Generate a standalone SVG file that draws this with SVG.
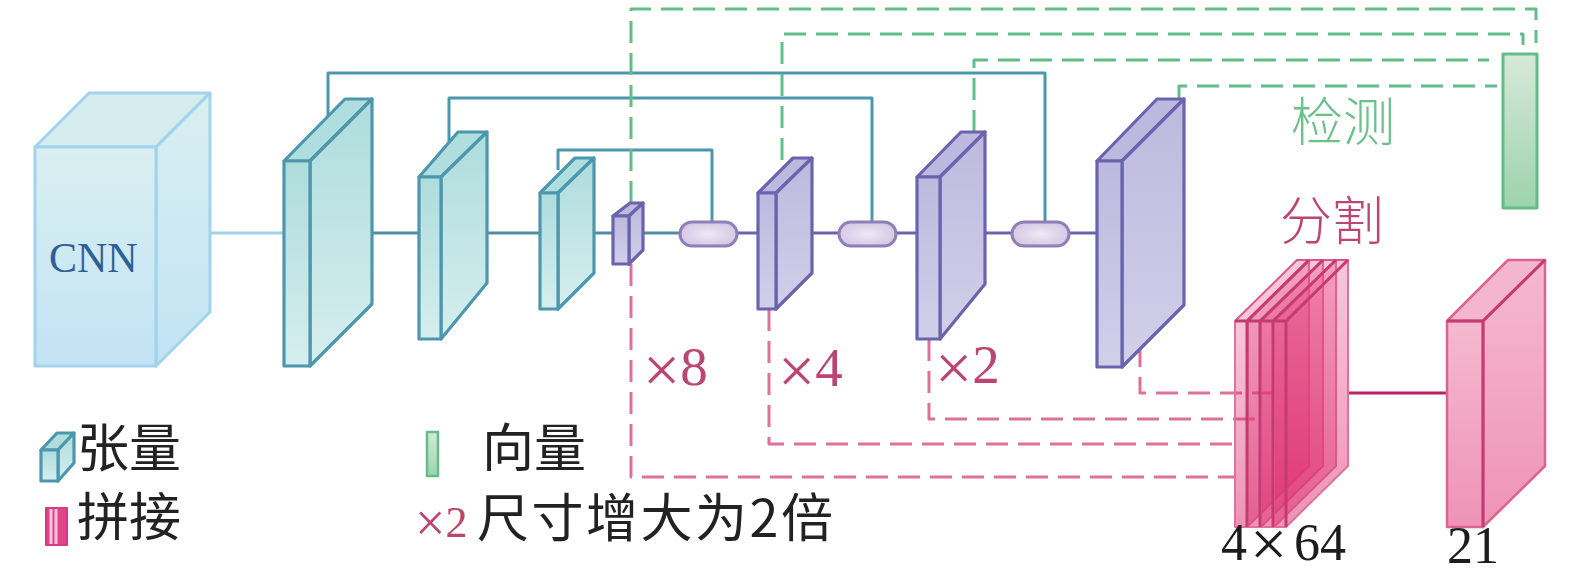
<svg xmlns="http://www.w3.org/2000/svg" width="1575" height="581" viewBox="0 0 1575 581">
<style>
.cj{font-family:"Noto Sans CJK SC","Noto Sans CJK JP",sans-serif;font-size:52px}
.lt3{font-weight:300}
.ms{font-family:"Liberation Serif","Times New Roman",serif}
.num{font-size:52px;fill:#1c1c1c}
.pk{fill:#bb4671;font-size:55px}
.x{font-size:66px}
.k{fill:#222}
path,rect,polygon{stroke-linejoin:round}
.s{fill:none;stroke-width:3}
.gd{fill:none;stroke:#63bd88;stroke-width:3;stroke-dasharray:22 10}
.pd{fill:none;stroke:#de7198;stroke-width:3;stroke-dasharray:22 10}
.tl{stroke:#4d97ae;stroke-width:3.2;fill:url(#gT)}
.tt{stroke:#4d97ae;stroke-width:3.2;fill:#b0dddd}
.pu{stroke:#6b63ae;stroke-width:3.2;fill:url(#gP)}
.pt{stroke:#6b63ae;stroke-width:3.2;fill:#bdb9de}
.cb{stroke:#a2d3ec;stroke-width:3;fill:url(#gC)}
.ct{stroke:#a2d3ec;stroke-width:3;fill:#d6edf0}
.rd{stroke:#d9648f;stroke-width:2.5;fill:url(#gR)}
.rt{stroke:#d9648f;stroke-width:2.5;fill:#f4b6cd}
.ly{stroke:#e0719c;stroke-width:2;fill:url(#gL)}
.lt{stroke:#d85a8c;stroke-width:2;fill:#e4447f;fill-opacity:.3}
.dk{fill:none;stroke:#c63a72;stroke-width:3}
.pill{fill:url(#gO);stroke:#8f7fb5;stroke-width:3}
</style>
<defs>
<linearGradient id="gT" x1="0" y1="0" x2="0" y2="1"><stop offset="0" stop-color="#aedcdc"/><stop offset="1" stop-color="#d6eeee"/></linearGradient>
<linearGradient id="gP" x1="0" y1="0" x2="0" y2="1"><stop offset="0" stop-color="#bdb9de"/><stop offset="1" stop-color="#d2cfe9"/></linearGradient>
<linearGradient id="gC" x1="0" y1="0" x2="0" y2="1"><stop offset="0" stop-color="#d9eff1"/><stop offset="1" stop-color="#c2e3f4"/></linearGradient>
<linearGradient id="gR" x1="0" y1="0" x2="0" y2="1"><stop offset="0" stop-color="#f5b9cf"/><stop offset="1" stop-color="#ef93b6"/></linearGradient>
<linearGradient id="gL" x1="0" y1="0" x2="0" y2="1"><stop offset="0" stop-color="#e4447f" stop-opacity=".3"/><stop offset="1" stop-color="#dc2f70" stop-opacity=".52"/></linearGradient>
<linearGradient id="gG" x1="0" y1="0" x2="0" y2="1"><stop offset="0" stop-color="#d6e9d8"/><stop offset="1" stop-color="#9dd3ae"/></linearGradient>
<radialGradient id="gO"><stop offset="0" stop-color="#f3e7f5"/><stop offset="1" stop-color="#d5c9e6"/></radialGradient>
</defs>

<g id="connectors">
<path class="s" stroke="#a2d3ec" d="M210 233H284"/>
<path class="s" stroke="#4d8ea6" d="M372 233H419M487 233H540M594 233H613M643 233H680"/>
<path class="s" stroke="#6b63ae" d="M737 233H758M812 233H839M896 233H917M985 233H1012M1069 233H1097"/>
<path class="s" stroke="#4d97ae" d="M558 170V150H712V222M449 150V98H872V222M328 120V73H1045V222"/>
<path class="gd" d="M631 203V9H1536V43"/>
<path class="gd" d="M782 160V34H1523V45"/>
<path class="gd" d="M974 132V60H1489"/>
<path class="gd" d="M1179 100V86H1497"/>
<path class="pd" d="M631 264V477H1235"/>
<path class="pd" d="M769 309V444H1241"/>
<path class="pd" d="M929 339V419H1260"/>
<path class="pd" d="M1140 345V393H1273"/>
<path class="s" stroke="#b5265f" d="M1348 393H1447"/>
</g>

<g id="cnn">
<polygon class="ct" points="35,147 89,93 210,93 156,147"/>
<polygon class="cb" points="156,147 210,93 210,312 156,366"/>
<rect class="cb" x="35" y="147" width="121" height="219"/>
<text class="ms" x="49" y="272" font-size="42" fill="#2f5f96">CNN</text>
</g>

<g id="t1">
<polygon class="tt" points="284,161 345,99 372,99 310,161"/>
<polygon class="tl" points="310,161 372,99 372,304 310,366"/>
<rect class="tl" x="284" y="161" width="26" height="205"/>
</g>
<g id="t2">
<polygon class="tt" points="419,177 458,132 487,132 441,177"/>
<polygon class="tl" points="441,177 487,132 487,283 441,339"/>
<rect class="tl" x="419" y="177" width="22" height="162"/>
</g>
<g id="t3">
<polygon class="tt" points="540,193 575,158 594,158 558,193"/>
<polygon class="tl" points="558,193 594,158 594,273 558,309"/>
<rect class="tl" x="540" y="193" width="18" height="116"/>
</g>
<g id="p0">
<polygon class="pt" points="613,216 630,203 643,203 629,216"/>
<polygon class="pu" points="629,216 643,203 643,250 629,264"/>
<rect class="pu" x="613" y="216" width="16" height="48"/>
</g>
<g id="u1"><rect class="pill" x="680" y="222" width="57" height="24" rx="12"/></g>
<g id="p1">
<polygon class="pt" points="758,193 793,158 812,158 776,193"/>
<polygon class="pu" points="776,193 812,158 812,273 776,309"/>
<rect class="pu" x="758" y="193" width="18" height="116"/>
</g>
<g id="u2"><rect class="pill" x="839" y="222" width="57" height="24" rx="12"/></g>
<g id="p2">
<polygon class="pt" points="917,177 961,132 985,132 940,177"/>
<polygon class="pu" points="940,177 985,132 985,284 940,339"/>
<rect class="pu" x="917" y="177" width="23" height="162"/>
</g>
<g id="u3"><rect class="pill" x="1012" y="222" width="57" height="24" rx="12"/></g>
<g id="p3">
<polygon class="pt" points="1097,161 1157,99 1184,99 1122,161"/>
<polygon class="pu" points="1122,161 1184,99 1184,305 1122,367"/>
<rect class="pu" x="1097" y="161" width="25" height="206"/>
</g>
<g id="vec"><rect x="1503" y="54" width="34" height="154" fill="url(#gG)" stroke="#63bd88" stroke-width="3"/></g>

<g id="concat">
<g id="l1">
<polygon class="lt" points="1235,321 1297,260 1309,260 1247,321"/>
<polygon class="ly" points="1247,321 1309,260 1309,466 1247,527"/>
<rect class="ly" x="1235" y="321" width="12" height="206"/>
</g>
<g id="l2">
<polygon class="lt" points="1248,321 1310,260 1323,260 1261,321"/>
<polygon class="ly" points="1261,321 1323,260 1323,466 1261,527"/>
<rect class="ly" x="1248" y="321" width="13" height="206"/>
</g>
<g id="l3">
<polygon class="lt" points="1261,321 1323,260 1336,260 1274,321"/>
<polygon class="ly" points="1274,321 1336,260 1336,466 1274,527"/>
<rect class="ly" x="1261" y="321" width="13" height="206"/>
</g>
<g id="l4">
<polygon class="lt" points="1274,321 1336,260 1348,260 1286,321"/>
<polygon class="ly" points="1286,321 1348,260 1348,466 1286,527"/>
<rect class="ly" x="1274" y="321" width="12" height="206"/>
</g>
<path class="dk" d="M1247 321V527M1260 321V527M1273 321V527M1286 321V527M1235 321H1286M1247 321L1309 260M1260 321L1323 260M1273 321L1336 260M1286 321L1348 260"/>
</g>

<g id="out">
<polygon class="rt" points="1447,321 1508,260 1545,260 1483,321"/>
<polygon class="rd" points="1483,321 1545,260 1545,466 1483,527"/>
<rect class="rd" x="1447" y="321" width="36" height="206"/>
<path class="dk" d="M1447 321H1483V527M1483 321L1545 260"/>
</g>

<g id="labels">
<text class="cj lt3" x="1291" y="141" fill="#6cc08c">检测</text>
<text class="cj lt3" x="1280" y="240" fill="#bb4671">分割</text>
<text class="ms pk" x="643" y="385"><tspan class="x" dy="7">×</tspan><tspan dy="-7">8</tspan></text>
<text class="ms pk" x="778" y="386"><tspan class="x" dy="7">×</tspan><tspan dy="-7">4</tspan></text>
<text class="ms pk" x="935" y="383"><tspan class="x" dy="7">×</tspan><tspan dy="-7">2</tspan></text>
<text class="ms num" y="560"><tspan x="1221">4</tspan><tspan class="x" x="1250" dy="6">×</tspan><tspan x="1294" dy="-6">64</tspan></text>
<text class="ms num" x="1447" y="563">21</text>
</g>

<g id="legend">
<g id="lg-tensor">
<polygon class="tt" points="41,450 57,433 74,433 58,450"/>
<polygon class="tl" points="58,450 74,433 74,463 58,481"/>
<rect class="tl" x="41" y="450" width="17" height="31"/>
</g>
<text class="cj k" x="77" y="467">张量</text>
<g id="lg-vec"><rect x="427" y="432" width="11" height="44" fill="url(#gG)" stroke="#63bd88" stroke-width="2.5"/></g>
<text class="cj k" x="482" y="467">向量</text>
<g id="lg-concat">
<rect x="46" y="508" width="21" height="37" fill="#e0458a" stroke="#d63a80" stroke-width="2"/>
<path d="M51 509V544M56 509V544" stroke="#f8c4da" stroke-width="3"/>
</g>
<text class="cj k" x="77" y="536">拼接</text>
<text class="ms pk" x="415" y="537" style="font-size:44px"><tspan style="font-size:54px" dy="4">×</tspan><tspan dy="-4">2</tspan></text>
<text class="cj k" x="477" y="537" textLength="356">尺寸增大为2倍</text>
</g>
</svg>
